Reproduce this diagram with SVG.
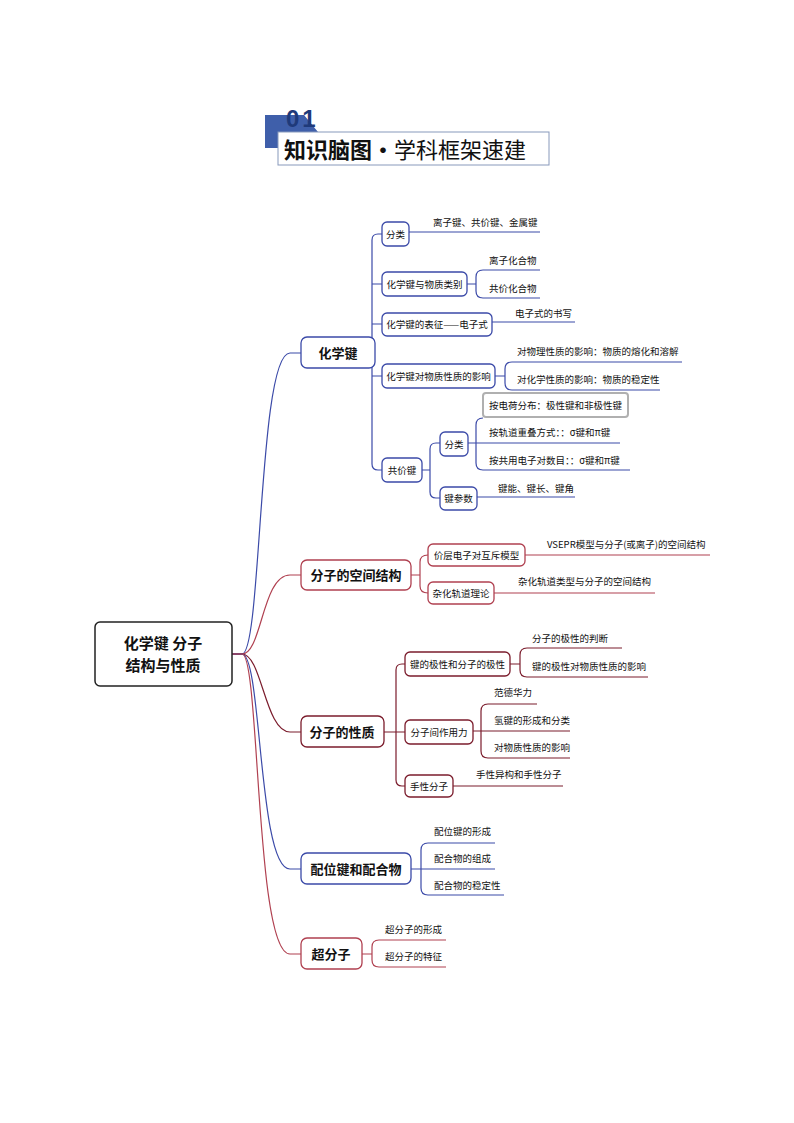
<svg xmlns="http://www.w3.org/2000/svg" width="794" height="1123" viewBox="0 0 794 1123">
<style>
text{font-family:"Noto Sans CJK SC","Liberation Sans",sans-serif;fill:#111}
.t{font-size:9.5px}
.n{font-size:9.5px}
.m{font-size:13px;font-weight:bold}
.b{fill:#fff;stroke:#3b4aa8;stroke-width:1.3}
.r{fill:#fff;stroke:#b04050;stroke-width:1.3}
.d{fill:#fff;stroke:#7b1c2c;stroke-width:1.3}
.lb{fill:none;stroke:#3b4aa8;stroke-width:1.2}
.lr{fill:none;stroke:#b04050;stroke-width:1.2}
.ld{fill:none;stroke:#7b1c2c;stroke-width:1.2}
</style>
<rect width="794" height="1123" fill="#fff"/>
<g id="header">
<path d="M265,115 H304 L318,132 H278 V148 H265 Z" fill="#3f5faa"/>
<text x="286" y="127" style="font-size:24px;font-weight:bold;fill:#1f3a7a;font-family:'Liberation Sans',sans-serif;letter-spacing:3px">01</text>
<rect x="278" y="132" width="271" height="33" fill="#fff" stroke="#8899bb" stroke-width="1"/>
<text x="284" y="158" style="font-size:22px;font-weight:bold">知识脑图·<tspan style="font-weight:normal">学科框架速建</tspan></text>
</g>
<g id="connectors">
<path class="lb" d="M232,654 H242 C262,654 258,353 290,353 H301"/>
<path class="lr" d="M232,654 H242 C262,654 262,575 290,575 H301"/>
<path class="ld" d="M232,654 H242 C262,654 265,732 290,732 H301"/>
<path class="lb" d="M232,654 H242 C262,654 258,869 290,869 H301"/>
<path class="lr" d="M232,654 H242 C260,654 255,954 290,954 H301"/>
<path class="lb" d="M375,353 H372 M382,234 H378 Q372,234 372,240 V464 Q372,470 378,470 H382 M372,284 H382 M372,324 H382 M372,376 H382"/>
<path class="lb" d="M409,232 H540"/>
<path class="lb" d="M467,284 H476 M483,270 Q476,270 476,277 V291 Q476,298 483,298 M483,270 H540 M483,298 H540"/>
<path class="lb" d="M492,322 H575"/>
<path class="lb" d="M495,376 H505 M512,362 Q505,362 505,369 V383 Q505,390 512,390 M512,362 H682 M512,390 H660"/>
<path class="lb" d="M422,470 H430 M440,443 H436 Q430,443 430,449 V492 Q430,498 436,498 H440"/>
<path class="lb" d="M468,443 H476 M483,418 Q476,418 476,425 V463 Q476,470 483,470 M476,443 H620 M483,470 H630"/>
<path class="lb" d="M477,497 H575"/>
<path class="lr" d="M411,575 H420 M428,555 Q420,555 420,562 V586 Q420,593 428,593"/>
<path class="lr" d="M525,555 H710 M494,593 H655"/>
<path class="ld" d="M384,732 H396 M405,664 H402 Q396,664 396,670 V780 Q396,786 402,786 H405 M396,732 H405"/>
<path class="ld" d="M510,664 H520 M527,648 Q520,648 520,655 V670 Q520,677 527,677 M527,648 H622 M527,677 H648"/>
<path class="ld" d="M473,731 H570 M488,704 Q481,704 481,711 V751 Q481,758 488,758 M488,704 H537 M488,758 H570"/>
<path class="ld" d="M453,786 H563"/>
<path class="lb" d="M411,869 H421 M428,843 Q421,843 421,850 V888 Q421,895 428,895 M428,843 H495 M421,869 H495 M428,895 H504"/>
<path class="lr" d="M362,954 H372 M379,940 Q372,940 372,947 V960 Q372,967 379,967 M379,940 H446 M379,967 H446"/>
</g>
<g id="root"><rect x="95" y="622" width="137" height="64" rx="5" fill="#fff" stroke="#222" stroke-width="1.5"/>
<text x="163" y="649" text-anchor="middle" style="font-size:15px;font-weight:bold">化学键 分子</text>
<text x="163" y="671" text-anchor="middle" style="font-size:15px;font-weight:bold">结构与性质</text></g>
<g id="n1"><rect class="b" x="301" y="337" width="74" height="31" rx="6"/><text class="m" x="338" y="358" text-anchor="middle">化学键</text></g>
<g id="n2"><rect class="r" x="301" y="560" width="110" height="30" rx="6"/><text class="m" x="356" y="580" text-anchor="middle">分子的空间结构</text></g>
<g id="n3"><rect class="d" x="301" y="716" width="83" height="31" rx="6"/><text class="m" x="342" y="737" text-anchor="middle">分子的性质</text></g>
<g id="n4"><rect class="b" x="301" y="853" width="110" height="31" rx="6"/><text class="m" x="356" y="874" text-anchor="middle">配位键和配合物</text></g>
<g id="n5"><rect class="r" x="301" y="938" width="61" height="31" rx="6"/><text class="m" x="331" y="959" text-anchor="middle">超分子</text></g>
<g id="c1"><rect class="b" x="382" y="222" width="27" height="24" rx="5"/><text class="n" x="395.5" y="238" text-anchor="middle">分类</text></g>
<g id="c2"><rect class="b" x="382" y="272" width="85" height="24" rx="5"/><text class="n" x="424.5" y="288" text-anchor="middle">化学键与物质类别</text></g>
<g id="c3"><rect class="b" x="382" y="313" width="110" height="23" rx="5"/><text class="n" x="437" y="328" text-anchor="middle">化学键的表征——电子式</text></g>
<g id="c4"><rect class="b" x="382" y="364" width="113" height="24" rx="5"/><text class="n" x="438.5" y="380" text-anchor="middle">化学键对物质性质的影响</text></g>
<g id="c5"><rect class="b" x="382" y="458" width="40" height="24" rx="5"/><text class="n" x="402" y="474" text-anchor="middle">共价键</text></g>
<g id="c51"><rect class="b" x="440" y="432" width="28" height="24" rx="5"/><text class="n" x="454" y="448" text-anchor="middle">分类</text></g>
<g id="c52"><rect class="b" x="440" y="487" width="37" height="23" rx="5"/><text class="n" x="458.5" y="502" text-anchor="middle">键参数</text></g>
<g id="leaves1">
<text class="t" x="433" y="226">离子键、共价键、金属键</text>
<text class="t" x="489" y="264">离子化合物</text>
<text class="t" x="489" y="292">共价化合物</text>
<text class="t" x="515" y="317">电子式的书写</text>
<text class="t" x="517" y="355">对物理性质的影响：物质的熔化和溶解</text>
<text class="t" x="517" y="383">对化学性质的影响：物质的稳定性</text>
<rect x="483" y="393" width="145" height="24" rx="3" fill="#fff" stroke="#b0b0b0" stroke-width="2"/>
<text class="t" x="489" y="409">按电荷分布：极性键和非极性键</text>
<text class="t" x="489" y="436">按轨道重叠方式：：σ键和π键</text>
<text class="t" x="489" y="464">按共用电子对数目：：σ键和π键</text>
<text class="t" x="498" y="492">键能、键长、键角</text>
</g>
<g id="c21"><rect class="r" x="428" y="544" width="97" height="22" rx="5"/><text class="n" x="476.5" y="559" text-anchor="middle">价层电子对互斥模型</text></g>
<g id="c22"><rect class="r" x="428" y="582" width="66" height="22" rx="5"/><text class="n" x="461" y="597" text-anchor="middle">杂化轨道理论</text></g>
<text class="t" x="547" y="548">VSEPR模型与分子(或离子)的空间结构</text>
<text class="t" x="518" y="585">杂化轨道类型与分子的空间结构</text>
<g id="c31"><rect class="d" x="405" y="652" width="105" height="24" rx="5"/><text class="n" x="457.5" y="668" text-anchor="middle">键的极性和分子的极性</text></g>
<g id="c32"><rect class="d" x="405" y="720" width="68" height="24" rx="5"/><text class="n" x="439" y="736" text-anchor="middle">分子间作用力</text></g>
<g id="c33"><rect class="d" x="405" y="775" width="48" height="22" rx="5"/><text class="n" x="429" y="790" text-anchor="middle">手性分子</text></g>
<text class="t" x="532" y="642">分子的极性的判断</text>
<text class="t" x="532" y="670">键的极性对物质性质的影响</text>
<text class="t" x="494" y="696">范德华力</text>
<text class="t" x="494" y="724">氢键的形成和分类</text>
<text class="t" x="494" y="751">对物质性质的影响</text>
<text class="t" x="476" y="778">手性异构和手性分子</text>
<text class="t" x="434" y="835">配位键的形成</text>
<text class="t" x="434" y="862">配合物的组成</text>
<text class="t" x="434" y="889">配合物的稳定性</text>
<text class="t" x="385" y="933">超分子的形成</text>
<text class="t" x="385" y="960">超分子的特征</text>
</svg>
